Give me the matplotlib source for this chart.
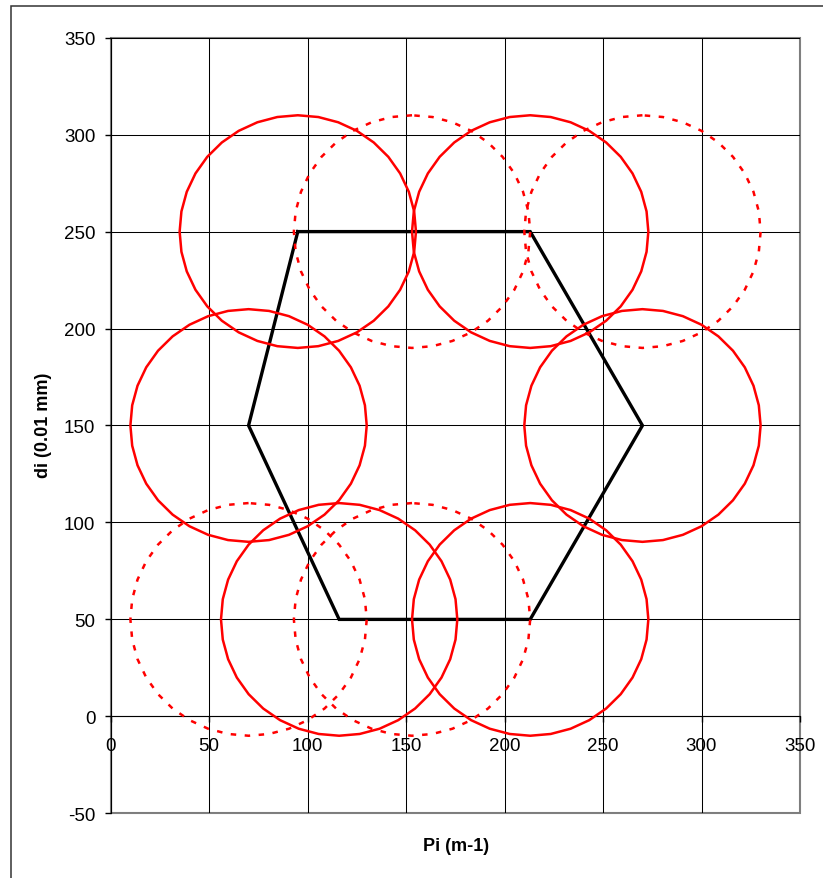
import matplotlib
matplotlib.use("Agg")
import matplotlib.pyplot as plt
from matplotlib.patches import RegularPolygon, Rectangle

plt.rcParams['font.family'] = ['Liberation Sans', 'DejaVu Sans']
plt.rcParams['axes.unicode_minus'] = False

# hexagon outline (Pi, di)
hex_x = [95, 213, 270, 213, 116, 70, 95]
hex_y = [250, 250, 150, 50, 50, 150, 250]

# circles: solid ones sit on the hexagon corners, dashed ones in between
solid_cx = [95, 213, 270, 213, 116, 70]
solid_cy = [250, 250, 150, 50, 50, 150]
dash_cx = [153, 270, 70, 153]
dash_cy = [250, 250, 50, 50]
radius = 60

xticks = [0, 50, 100, 150, 200, 250, 300, 350]
yticks = [-50, 0, 50, 100, 150, 200, 250, 300, 350]

W, H = 823, 879
fig = plt.figure(figsize=(W / 100, H / 100), dpi=100)
ax = fig.add_axes([110.7 / W, 1 - 814.3 / H, 689.3 / W, 775.6 / H])

# outer chart border (runs off the right and bottom edge)
fig.patches.append(Rectangle((11 / W, -0.1), 1.2, 1.1 - 7 / H, transform=fig.transFigure,
                             fill=False, edgecolor='#333333', linewidth=1.1, clip_on=False))

ax.plot(hex_x, hex_y, color='black', linewidth=2.4, zorder=3, solid_joinstyle='miter')

for cx, cy in zip(solid_cx, solid_cy):
    ax.add_patch(RegularPolygon((cx, cy), 36, radius=radius, fill=False,
                                edgecolor='#ff0000', linewidth=1.8, zorder=4))
for cx, cy in zip(dash_cx, dash_cy):
    ax.add_patch(RegularPolygon((cx, cy), 36, radius=radius, fill=False,
                                edgecolor='#ff0000', linewidth=1.8,
                                linestyle=(0, (2.2, 3.4)), zorder=4))

ax.set_xlim(0, 350)
ax.set_ylim(-50, 350)
ax.set_xticks(xticks)
ax.set_yticks(yticks)
ax.grid(True, color='black', linewidth=0.75)
ax.set_axisbelow(True)

ax.spines['bottom'].set_position(('data', 0))
ax.spines['bottom'].set_color('black')
ax.spines['left'].set_color('black')
for s in ['top', 'right']:
    ax.spines[s].set_visible(False)
ax.patch.set_edgecolor('#808080')
ax.patch.set_linewidth(1.5)

ax.tick_params(axis='x', direction='out', length=4.5, width=1, pad=10.5, labelsize=13.5)
ax.tick_params(axis='y', direction='out', length=4.5, width=1, pad=6.5, labelsize=13.5)

fig.text(43 / W, 1 - 425 / H, 'di (0.01 mm)', rotation=90, ha='center', va='center',
         fontsize=13, fontweight='bold')
fig.text(456 / W, 1 - 847 / H, 'Pi (m-1)', ha='center', va='center',
         fontsize=13, fontweight='bold')

fig.savefig('out.png', dpi=100)
